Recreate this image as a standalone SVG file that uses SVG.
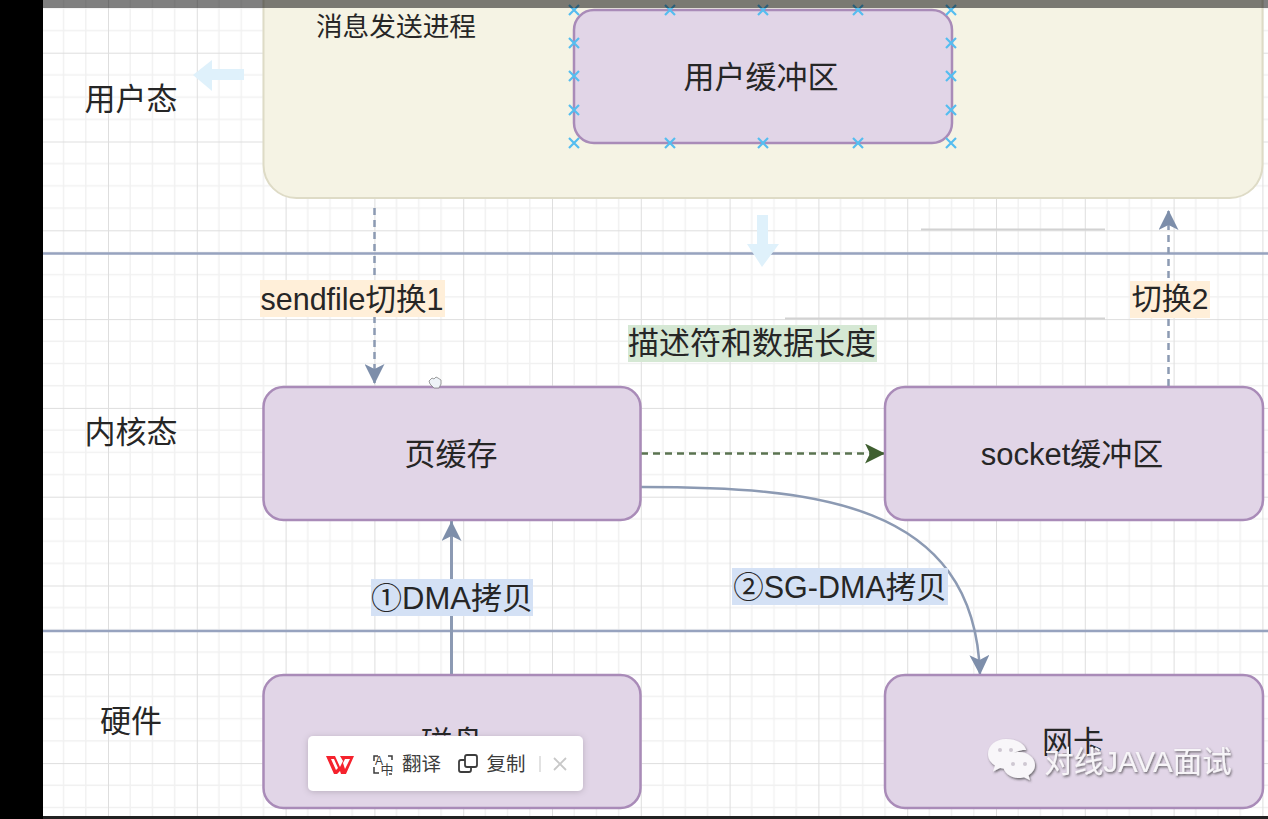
<svg xmlns="http://www.w3.org/2000/svg" width="1268" height="819" viewBox="0 0 1268 819">
<style>
text{font-family:"Liberation Sans","Noto Sans CJK SC",sans-serif;fill:#262626;text-anchor:middle}
.t{font-size:31px}
.box{fill:#e1d5e7;stroke:#a98bb8;stroke-width:2.5}
.sep{stroke:#97a3bf;stroke-width:2.5;fill:none}
.conn{stroke:#8c9ab3;fill:none;stroke-width:2.5}
.x{stroke:#55bdf0;stroke-width:2.2;fill:none}
.pop{font-size:19.5px;fill:#3c3c3c}
</style>
<defs>
<pattern id="grid" x="19.2" y="52.7" width="88.8" height="88.8" patternUnits="userSpaceOnUse">
<path d="M22.2 0V88.8M44.4 0V88.8M66.6 0V88.8M0 22.2H88.8M0 44.4H88.8M0 66.6H88.8" stroke="#f1f1f1" stroke-width="1.5" fill="none"/>
<path d="M0 0V88.8M0 0H88.8" stroke="#dedede" stroke-width="2" fill="none"/>
</pattern>
<marker id="a" markerUnits="userSpaceOnUse" markerWidth="20" markerHeight="20" refX="20" refY="10" orient="auto" viewBox="0 0 20 20"><path d="M0 0L20 10L0 20L5 10Z" fill="#7d8eaa"/></marker>
<marker id="g" markerUnits="userSpaceOnUse" markerWidth="20" markerHeight="20" refX="20" refY="10" orient="auto" viewBox="0 0 20 20"><path d="M0 0L20 10L0 20L5 10Z" fill="#3f5f30"/></marker>
<path id="xm" d="M-5 -5L5 5M-5 5L5 -5" class="x"/>
<filter id="ts" x="-10%" y="-20%" width="125%" height="150%"><feDropShadow dx="1" dy="1.5" stdDeviation="0.8" flood-color="#333" flood-opacity="0.7"/></filter>
<filter id="ps" x="-10%" y="-20%" width="120%" height="150%"><feDropShadow dx="0" dy="1" stdDeviation="3" flood-color="#000" flood-opacity="0.18"/></filter>
</defs>

<rect id="canvas" width="1268" height="819" fill="#fff"/>
<rect id="grid-bg" x="43" y="0" width="1225" height="819" fill="url(#grid)"/>
<path d="M921 229.5H1105M785 318.5H1105" stroke="#d2d2d2" stroke-width="1.8" fill="none"/>
<path d="M43 253.5H1268M43 631H1268" class="sep"/>
<path d="M193 75L212 60V69H244V80H212V91Z" fill="#dff1fb"/>
<path d="M757 215H768V244H779L762 267L747 244H757Z" fill="#dff1fb"/>

<g id="process">
<rect x="263.500" y="-40" width="999" height="238" rx="33" fill="#f5f3e4" stroke="#dedbc6" stroke-width="2"/>
<text x="396" y="36" font-size="26.7">消息发送进程</text>
</g>
<g id="user-buffer">
<rect class="box" x="574" y="10" width="378" height="133" rx="20"/>
<text class="t" x="761" y="88">用户缓冲区</text>
</g>
<g id="handles">
<use href="#xm" x="574" y="10"/><use href="#xm" x="670" y="10"/><use href="#xm" x="763" y="10"/><use href="#xm" x="858" y="10"/><use href="#xm" x="951" y="10"/>
<use href="#xm" x="574" y="43"/><use href="#xm" x="951" y="43"/>
<use href="#xm" x="574" y="76"/><use href="#xm" x="951" y="76"/>
<use href="#xm" x="574" y="110"/><use href="#xm" x="951" y="110"/>
<use href="#xm" x="574" y="143"/><use href="#xm" x="670" y="143"/><use href="#xm" x="763" y="143"/><use href="#xm" x="858" y="143"/><use href="#xm" x="951" y="143"/>
</g>

<g id="connectors">
<path class="conn" stroke-dasharray="7 5" d="M374.500 208V384" marker-end="url(#a)"/>
<path class="conn" stroke-dasharray="7 5" d="M1168.500 386V210" marker-end="url(#a)"/>
<path class="conn" style="stroke:#5a7350" stroke-dasharray="7 5" d="M641 453.500H885" marker-end="url(#g)"/>
<path class="conn" style="stroke-width:3" d="M451.500 675V521" marker-end="url(#a)"/>
<path class="conn" d="M641 487C810 487 975 500 980 675" marker-end="url(#a)"/>
</g>

<g id="label-sendfile"><rect x="260" y="280" width="185" height="37" fill="#ffefd9"/><text class="t" x="352" y="310" style="font-size:30.500px">sendfile切换1</text></g>
<g id="label-switch2"><rect x="1130" y="281" width="80" height="37" fill="#ffefd9"/><text class="t" x="1170" y="309" style="font-size:30px">切换2</text></g>
<g id="label-desc"><rect x="628" y="325" width="249" height="37" fill="#d5e8d4"/><text class="t" x="752" y="354">描述符和数据长度</text></g>
<g id="label-dma"><rect x="371" y="579" width="162" height="37" fill="#d4e1f5"/><text class="t" x="452" y="609" style="font-size:31px">①DMA拷贝</text></g>
<g id="label-sgdma"><rect x="732" y="568" width="216" height="37" fill="#d4e1f5"/><text class="t" x="840" y="598" style="font-size:30.500px">②SG-DMA拷贝</text></g>

<g id="lane-user"><text class="t" x="131" y="110">用户态</text></g>
<g id="lane-kernel"><text class="t" x="131" y="443">内核态</text></g>
<g id="lane-hw"><text class="t" x="131" y="732">硬件</text></g>

<g id="page-cache"><rect class="box" x="263.500" y="387" width="377" height="133" rx="20"/><text class="t" x="451" y="465">页缓存</text></g>
<g id="socket-buffer"><rect class="box" x="885" y="387" width="378" height="133" rx="20"/><text class="t" x="1072" y="465">socket缓冲区</text></g>
<g id="disk"><rect class="box" x="263.500" y="675" width="377" height="133" rx="20"/><text class="t" x="452" y="753">磁盘</text></g>
<g id="nic"><rect class="box" x="885" y="675" width="378" height="133" rx="20"/><text class="t" x="1073" y="753">网卡</text></g>

<path id="cursor" d="M429 381l3-3 2 1 2-2 2 1 3 2 0 4-2 4h-5l-4-4z" fill="#eef3f8" stroke="#777" stroke-width="0.7"/>

<g id="watermark" filter="url(#ts)">
<path d="M1006 739c-10 0-18 6.500-18 15 0 5 3 9 7 11.500l-2 6 7-3.500c2 .5 4 .8 6 .8 1 0 2-.1 3-.2-.5-1.500-.8-3-.8-4.600 0-8 7.500-14 16.500-14h1.500c-2-6.500-10-11-20-11z" fill="#f8f6f9"/>
<path d="M1019 752c-9 0-16 6-16 13s7 13 16 13c2 0 3.500-.3 5-.8l6 3-1.500-5c4-2.500 6.500-6 6.500-10.200 0-7-7-13-16-13z" fill="#f8f6f9"/>
<circle cx="1000" cy="750" r="2" fill="#cfc8d2"/><circle cx="1011" cy="750" r="2" fill="#cfc8d2"/><circle cx="1013" cy="764" r="2" fill="#cfc8d2"/><circle cx="1025" cy="764" r="2" fill="#cfc8d2"/>
<text x="1138" y="772" style="font-size:29.500px;fill:#f7f5f8">对线JAVA面试</text>
</g>

<g id="wps-popup">
<rect x="308" y="736" width="275" height="55" rx="5" fill="#fff" filter="url(#ps)"/>
<path d="M326 756H335L340 767L343 761L340 756H354L346 774H341L340 771L337 774H334ZM331 759L336 770L338 768L334 759ZM345 759L343 763L345 769L350 759Z" fill="#f5222d" fill-rule="evenodd"/>
<path d="M378 756h-4v5M388 756h4v4M374 767v6h5M392 774h-3" fill="none" stroke="#3c3c3c" stroke-width="1.500"/>
<text x="379" y="765" style="font-size:12px;fill:#3c3c3c">A</text>
<text x="387" y="774" style="font-size:13px;fill:#3c3c3c">中</text>
<text class="pop" x="421.500" y="771">翻译</text>
<rect x="465" y="755" width="12" height="12" rx="2" fill="none" stroke="#3c3c3c" stroke-width="1.800"/>
<path d="M465 760h-4a2 2 0 0 0-2 2v8a2 2 0 0 0 2 2h8a2 2 0 0 0 2-2v-3" fill="none" stroke="#3c3c3c" stroke-width="1.800"/>
<text class="pop" x="506" y="771">复制</text>
<path d="M540 756V772" stroke="#d8d8d8" stroke-width="1.500"/>
<path d="M554 758L566 770M566 758L554 770" stroke="#c8c8c8" stroke-width="1.800"/>
</g>

<rect id="left-bar" width="43" height="819" fill="#000"/>
<rect id="top-bar" x="43" width="1225" height="8" fill="#000" fill-opacity="0.5"/>
<rect id="bottom-bar" x="43" y="816" width="1225" height="3" fill="#222"/>
</svg>
